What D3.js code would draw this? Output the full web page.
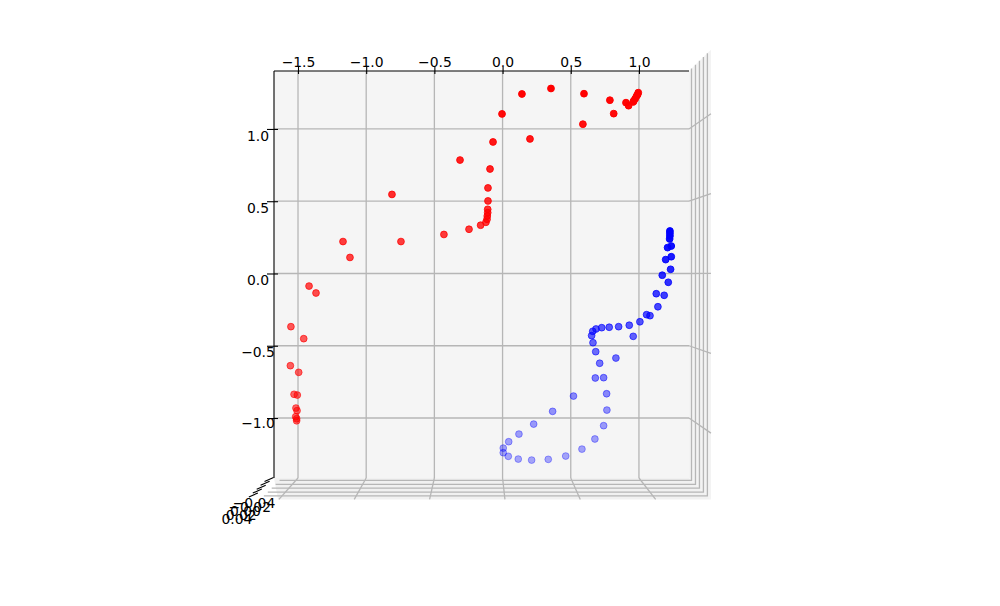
<!DOCTYPE html>
<html><head><meta charset="utf-8">
<script src="https://cdn.jsdelivr.net/npm/d3@7"></script>
<style>
html,body{margin:0;padding:0;background:#fff}
svg{display:block}
text{font-family:"DejaVu Sans",sans-serif;font-size:13.9px;fill:#000}
</style></head><body>
<svg id="c" width="1000" height="606"></svg>
<script>
const xTicks=[-1.5,-1.0,-0.5,0.0,0.5,1.0];
const yTicks=[-1.0,-0.5,0.0,0.5,1.0];
const zTicks=[-0.04,-0.02,0.00,0.02,0.04];
const redX=[0.995,0.990,0.983,0.973,0.963,0.958,0.924,0.905,0.787,0.815,0.597,0.589,0.355,0.142,-0.004,0.201,-0.070,-0.312,-0.092,-0.107,-0.811,-0.107,-0.109,-0.109,-0.112,-0.114,-0.122,-0.161,-0.246,-0.430,-0.745,-1.170,-1.119,-1.419,-1.368,-1.552,-1.458,-1.556,-1.495,-1.529,-1.505,-1.515,-1.507,-1.517,-1.510,-1.510];
const redY=[1.251,1.237,1.228,1.210,1.196,1.187,1.161,1.182,1.199,1.106,1.244,1.033,1.280,1.242,1.104,0.931,0.910,0.785,0.723,0.592,0.547,0.502,0.444,0.421,0.398,0.375,0.354,0.334,0.306,0.270,0.221,0.221,0.111,-0.087,-0.135,-0.368,-0.451,-0.638,-0.684,-0.836,-0.841,-0.931,-0.949,-0.991,-1.005,-1.019];
const blueX=[1.227,1.227,1.227,1.225,1.210,1.237,1.237,1.196,1.232,1.171,1.215,1.127,1.185,1.139,1.081,1.056,1.007,0.958,0.929,0.851,0.782,0.727,0.685,0.661,0.653,0.663,0.683,0.712,0.831,0.680,0.741,0.763,0.520,0.765,0.367,0.741,0.228,0.677,0.120,0.045,0.582,0.005,0.005,0.463,0.042,0.335,0.115,0.213];
const blueY=[0.294,0.278,0.260,0.239,0.179,0.190,0.116,0.096,0.029,-0.012,-0.061,-0.140,-0.151,-0.230,-0.292,-0.285,-0.334,-0.435,-0.358,-0.368,-0.372,-0.375,-0.384,-0.400,-0.430,-0.479,-0.541,-0.621,-0.585,-0.723,-0.721,-0.832,-0.848,-0.945,-0.954,-1.053,-1.042,-1.145,-1.111,-1.164,-1.215,-1.208,-1.240,-1.263,-1.265,-1.286,-1.284,-1.291];

const L=274,R=689,T=71,B=478;
const x=d3.scaleLinear().domain([-1.676,1.367]).range([L,R]);
const y=d3.scaleLinear().domain([-1.415,1.401]).range([B,T]);
const persp=d3.scaleLinear().domain([-0.04,0.04]).range([1.012,1.088]);
const cx=480,cy=274,kMax=1.105;
const px=(v,k)=>cx+(v-cx)*k, py=(v,k)=>cy+(v-cy)*k;
const svg=d3.select("#c");
const fmt=v=>d3.format(".1f")(v).replace("-","\u2212");
const zfmt=v=>d3.format(".2f")(v).replace("-","\u2212");
const grid="#b6b6b6";

// panes
const panes=svg.append("g");
const poly=p=>p.map(d=>d.join(",")).join(" ");
panes.append("polygon").attr("points",poly([[px(R,1),py(T,1)],[px(R,kMax),py(T,kMax)],[px(R,kMax),py(B,kMax)],[px(R,1),py(B,1)]])).attr("fill","#f3f3f3");
panes.append("polygon").attr("points",poly([[px(L,1),py(B,1)],[px(R,1),py(B,1)],[px(R,kMax),py(B,kMax)],[x(-1.5)-20,py(B,kMax)]])).attr("fill","#f1f1f1");
panes.append("rect").attr("x",L).attr("y",T).attr("width",R-L).attr("height",B-T).attr("fill","#f5f5f5");

// grid
const g=svg.append("g").attr("fill","none").attr("stroke",grid).attr("stroke-width",1.3);
xTicks.forEach(t=>{
  g.append("line").attr("x1",x(t)).attr("x2",x(t)).attr("y1",T).attr("y2",B);
  g.append("line").attr("x1",x(t)).attr("y1",B).attr("x2",px(x(t),kMax)).attr("y2",py(B,kMax));
});
yTicks.forEach(t=>{
  g.append("line").attr("x1",L).attr("x2",R).attr("y1",y(t)).attr("y2",y(t));
  g.append("line").attr("x1",R).attr("y1",y(t)).attr("x2",px(R,kMax)).attr("y2",py(y(t),kMax));
});
zTicks.forEach(t=>{
  const k=persp(t);
  g.append("polyline").attr("points",poly([[px(R,k),py(T,k)],[px(R,k),py(B,k)],[px(L,k)+8,py(B,k)]]));
});

// points: fainter the further down the view, normalised per series
const scatter=(xs,ys,color,lo)=>{
  const norm=d3.scaleLinear().domain(d3.extent(ys)).range([0,1]);
  const op=v=>lo+(1-lo)*Math.pow(norm(v),1.4);
  const pts=d3.range(xs.length).sort((a,b)=>ys[a]-ys[b]);
  svg.append("g").selectAll("circle").data(pts).join("circle")
    .attr("cx",i=>x(xs[i])).attr("cy",i=>y(ys[i])).attr("r",3.4)
    .attr("fill",color).attr("stroke",color).attr("stroke-width",1)
    .attr("fill-opacity",i=>op(ys[i])).attr("stroke-opacity",i=>op(ys[i]));
};
scatter(redX,redY,"#ff0000",0.58);
scatter(blueX,blueY,"#0000ff",0.33);

// axes
const xa=svg.append("g").attr("transform",`translate(0,${T})`)
  .call(d3.axisTop(x).tickValues(xTicks).tickFormat(fmt).tickSize(4).tickPadding(0));
xa.select(".domain").attr("d",`M${L},0H${R}`).attr("stroke","#000").attr("stroke-width",1.1);
xa.selectAll(".tick line").attr("y1",3).attr("y2",-4).attr("stroke-width",1.1);
xa.selectAll("text").style("font-size","13.9px").style("font-family",'"DejaVu Sans"');

const ya=svg.append("g").attr("transform",`translate(${L},0)`)
  .call(d3.axisLeft(y).tickValues(yTicks).tickFormat(fmt).tickSize(7));
ya.select(".domain").attr("d",`M0,${T}V${B}`).attr("stroke","#000").attr("stroke-width",1.1);
ya.selectAll(".tick line").attr("x1",4).attr("x2",-7).attr("stroke-width",1.1);
ya.selectAll(".tick text").attr("text-anchor","middle").attr("x",-16).attr("dy",0).attr("y",t=>10.8+t)
  .style("font-size","13.9px").style("font-family",'"DejaVu Sans"');

// z axis
const zg=svg.append("g");
zTicks.forEach((t,i)=>{
  const k=persp(t),X=px(L,k),Y=py(B,k);
  zg.append("line").attr("x1",X+2).attr("y1",Y-3).attr("x2",X-7).attr("y2",Y+1).attr("stroke","#000").attr("stroke-width",1.1);
  zg.append("text").attr("x",254-(i)*4.25).attr("y",508+i*4.1).attr("text-anchor","middle").text(zfmt(t));
});
</script></body></html>
